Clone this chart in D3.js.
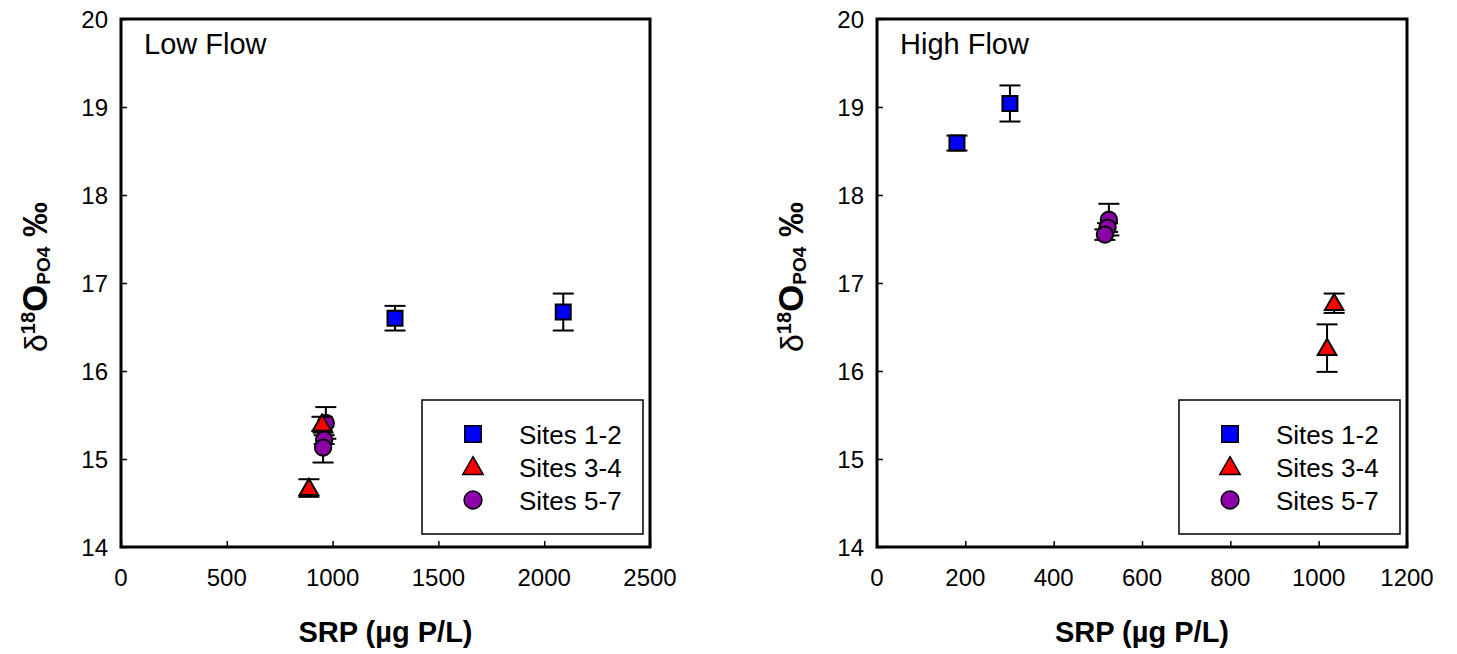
<!DOCTYPE html>
<html>
<head>
<meta charset="utf-8">
<script src="https://cdn.jsdelivr.net/npm/d3@7"></script>
<style>
  body { margin: 0; background: #fff; }
  svg text { font-family: "Liberation Sans", Arial, sans-serif; fill: #000; }
</style>
</head>
<body>
<script>
// series values, [SRP, d18O, error]
var lowSites12 = [[1295, 16.60, 0.14], [2090, 16.67, 0.21]];
var lowSites34 = [[888, 14.67, 0.10], [950, 15.40, 0.08]];
var lowSites57 = [[968, 15.41, 0.18], [960, 15.22, 0.05], [955, 15.13, 0.17]];

var highSites12 = [[181, 18.59, 0.085], [301, 19.04, 0.205]];
var highSites34 = [[1035, 16.77, 0.11], [1019, 16.26, 0.27]];
var highSites57 = [[525, 17.72, 0.18], [522, 17.63, 0.05], [516, 17.55, 0.06]];

var yTicks = [14, 15, 16, 17, 18, 19, 20];
var lowXTicks = [0, 500, 1000, 1500, 2000, 2500];
var highXTicks = [0, 200, 400, 600, 800, 1000, 1200];
var seriesNames = ["Sites 1-2", "Sites 3-4", "Sites 5-7"];

var svg = d3.select("body").append("svg")
    .attr("width", 1457)
    .attr("height", 654);

var symbols = [d3.symbolSquare, d3.symbolTriangle, d3.symbolCircle];
var fills = ["#0000ff", "#ff0000", "#8b00a8"];
var sizes = [225, 150, 210];

function drawPanel(left, right, xMax, xTicks, title, series){
    var top = 19, bottom = 547;
    var x = d3.scaleLinear().domain([0, xMax]).range([left, right]);
    var y = d3.scaleLinear().domain([14, 20]).range([bottom, top]);
    var g = svg.append("g");

    //inward ticks
    var yAxis = d3.axisRight(y).tickValues(yTicks).tickSize(6).tickFormat("");
    g.append("g").attr("transform", "translate(" + left + ",0)").call(yAxis)
        .call(function(a){ a.select(".domain").remove(); a.selectAll("line").attr("stroke-width", 1.5); });
    var xAxis = d3.axisTop(x).tickValues(xTicks).tickSize(6).tickFormat("");
    g.append("g").attr("transform", "translate(0," + bottom + ")").call(xAxis)
        .call(function(a){ a.select(".domain").remove(); a.selectAll("line").attr("stroke-width", 1.5); });

    //tick labels
    g.selectAll(".ylab").data(yTicks).enter().append("text")
        .attr("x", left - 13)
        .attr("y", function(d){ return y(d) + 8.5; })
        .attr("text-anchor", "end")
        .style("font-size", "24px")
        .text(function(d){ return d; });
    g.selectAll(".xlab").data(xTicks).enter().append("text")
        .attr("x", function(d){ return x(d); })
        .attr("y", 586)
        .attr("text-anchor", "middle")
        .style("font-size", "24px")
        .text(function(d){ return d; });

    //frame
    g.append("rect")
        .attr("x", left).attr("y", top)
        .attr("width", right - left).attr("height", bottom - top)
        .attr("fill", "none").attr("stroke", "#000").attr("stroke-width", 3);

    g.append("text")
        .attr("x", left + 23).attr("y", 54)
        .style("font-size", "29px")
        .text(title);

    //error bars and markers, circles first so triangles sit on top
    [0, 2, 1].forEach(function(s){
        var pts = series[s];
        var eb = g.append("g").attr("stroke", "#000").attr("stroke-width", 2);
        pts.forEach(function(p){
            var cx = x(p[0]);
            eb.append("line").attr("x1", cx).attr("x2", cx).attr("y1", y(p[1] - p[2])).attr("y2", y(p[1] + p[2]));
            [p[1] - p[2], p[1] + p[2]].forEach(function(v){
                eb.append("line").attr("x1", cx - 10.5).attr("x2", cx + 10.5).attr("y1", y(v)).attr("y2", y(v));
            });
        });
        g.selectAll(".pt" + s).data(pts).enter().append("path")
            .attr("d", d3.symbol().type(symbols[s]).size(sizes[s]))
            .attr("transform", function(d){
                var dy = s === 1 ? 1.5 : 0;
                return "translate(" + x(d[0]) + "," + (y(d[1]) + dy) + ")";
            })
            .attr("fill", fills[s])
            .attr("stroke", "#000")
            .attr("stroke-width", 2);
    });

    //legend
    var lx = right - 228, ly = 400;
    g.append("rect")
        .attr("x", lx).attr("y", ly).attr("width", 221).attr("height", 134)
        .attr("fill", "#fff").attr("stroke", "#000").attr("stroke-width", 1.5);
    seriesNames.forEach(function(name, i){
        var ry = ly + 34 + i * 33;
        g.append("path")
            .attr("d", d3.symbol().type(symbols[i]).size(sizes[i] * 1.2)())
            .attr("transform", "translate(" + (lx + 51) + "," + (ry + (i === 1 ? 1.5 : 0)) + ")")
            .attr("fill", fills[i]).attr("stroke", "#000").attr("stroke-width", 1.5);
        g.append("text")
            .attr("x", lx + 97).attr("y", ry + 9.5)
            .style("font-size", "26px")
            .text(name);
    });

    //axis titles
    g.append("text")
        .attr("x", (left + right) / 2).attr("y", 642)
        .attr("text-anchor", "middle")
        .style("font-size", "29px").style("font-weight", "bold")
        .text("SRP (µg P/L)");

    var yt = g.append("text")
        .attr("transform", "translate(" + (left - 74) + ",277) rotate(-90)")
        .attr("text-anchor", "middle")
        .style("font-size", "35px").style("font-weight", "bold");
    yt.append("tspan").style("font-weight", "normal").style("font-size", "32px").text("δ");
    yt.append("tspan").attr("dy", -12).style("font-size", "20px").text("18");
    yt.append("tspan").attr("dy", 12).text("O");
    yt.append("tspan").attr("dy", 3).style("font-size", "19px").text("PO4");
    yt.append("tspan").attr("dy", -3).text(" ‰");
}

drawPanel(121, 650, 2500, lowXTicks, "Low Flow", [lowSites12, lowSites34, lowSites57]);
drawPanel(877, 1407, 1200, highXTicks, "High Flow", [highSites12, highSites34, highSites57]);
</script>
</body>
</html>
